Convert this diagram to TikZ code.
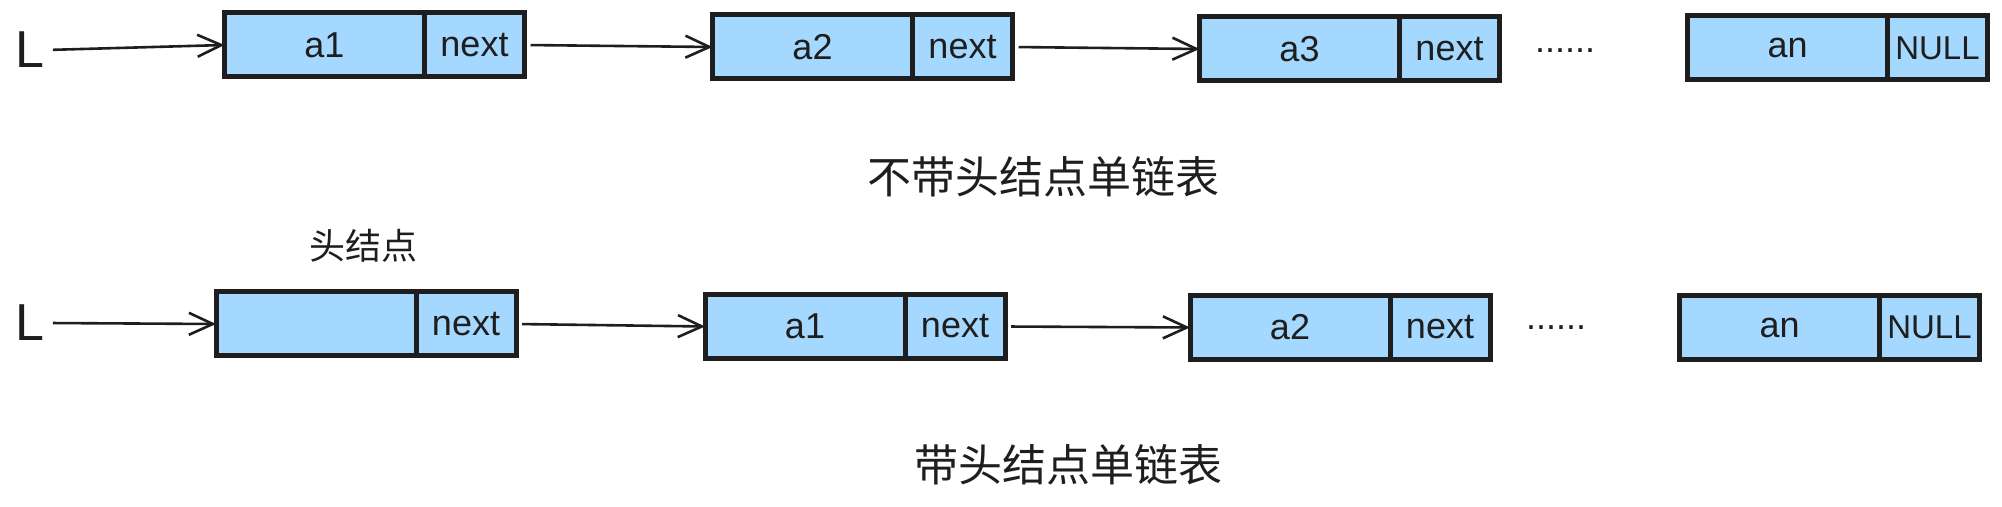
\documentclass[tikz,border=0pt]{standalone}
\usepackage{fontspec}
\setmainfont{Liberation Sans}
\newfontfamily\cjk{Noto Sans CJK SC}
\usetikzlibrary{positioning}
\usetikzlibrary{arrows.meta}
\definecolor{ink}{HTML}{1E1E1E}
\definecolor{cellblue}{HTML}{A5D8FF}

\begin{document}
\begin{tikzpicture}[x=0.5pt, y=-0.5pt, >={Straight Barb[length=12pt,width=11pt]},
	data/.style={rectangle, draw=ink, fill=cellblue, line width=2.5pt, outer sep=0pt, minimum width=100pt, minimum height=32pt, text=ink, font=\fontsize{18}{20}\selectfont},
	ptr/.style={data, minimum width=50pt},
	link/.style={draw=ink, line width=1.3pt, ->, shorten <=3pt},
	word/.style={text=ink, font=\fontsize{18}{20}\selectfont}]
	\useasboundingbox (0,0) rectangle (2002,507);

	% list without head node
	\node[word, font=\fontsize{26}{26}\selectfont, inner sep=1pt] (L1) at (30,50) {L};
	\node[data] (a1) at (324.5,45) {a1};
	\node[ptr, right=0pt of a1] (a1n) {next};
	\node[data] (a2) at (812.5,47) {a2};
	\node[ptr, right=0pt of a2] (a2n) {next};
	\node[data] (a3) at (1299.5,49) {a3};
	\node[ptr, right=0pt of a3] (a3n) {next};
	\node[word] (dots1) at (1565,51) {......};
	\node[data] (an) at (1787.5,48) {an};
	\node[ptr, font=\fontsize{16.5}{18}\selectfont, right=0pt of an] (ann) {NULL};
	\node[word, font=\cjk\fontsize{22}{24}\selectfont] (cap1) at (1043,177) {不带头结点单链表};

	\draw[link] (L1.east) -- (a1.west);
	\draw[link] (a1n.east) -- (a2.west);
	\draw[link] (a2n.east) -- (a3.west);

	% list with head node
	\node[word, font=\fontsize{26}{26}\selectfont, inner sep=1pt] (L2) at (30,323) {L};
	\node[data] (h) at (316,324) {};
	\node[ptr, right=0pt of h] (hn) {next};
	\node[word, font=\cjk\fontsize{18}{20}\selectfont] (hlabel) at (363,246) {头结点};
	\node[data] (b1) at (805,326.5) {a1};
	\node[ptr, right=0pt of b1] (b1n) {next};
	\node[data] (b2) at (1290,327.5) {a2};
	\node[ptr, right=0pt of b2] (b2n) {next};
	\node[word] (dots2) at (1556,328) {......};
	\node[data] (bn) at (1779.5,327.5) {an};
	\node[ptr, font=\fontsize{16.5}{18}\selectfont, right=0pt of bn] (bnn) {NULL};
	\node[word, font=\cjk\fontsize{22}{24}\selectfont] (cap2) at (1068,465) {带头结点单链表};

	\draw[link] (L2.east) -- (h.west);
	\draw[link] (hn.east) -- (b1.west);
	\draw[link] (b1n.east) -- (b2.west);
\end{tikzpicture}
\end{document}
